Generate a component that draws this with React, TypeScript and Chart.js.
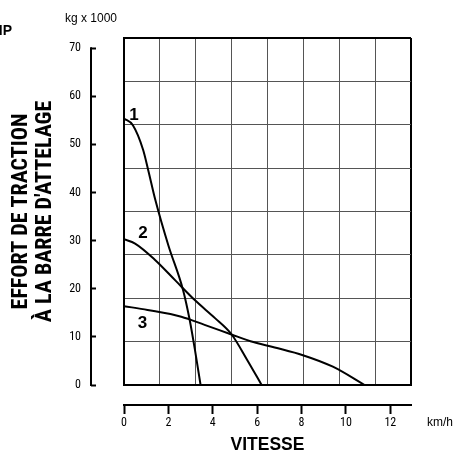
import React, { useEffect, useRef } from "react";
import { Chart, registerables } from "chart.js";

Chart.register(...registerables);

const COND = "'Roboto Condensed', Roboto, 'Liberation Sans', sans-serif";
const SANS = "'Liberation Sans', Arial, sans-serif";

// Axis ranges / ticks
const speedMin = 0;
const speedMax = 12.93;
const speedStep = 2;
const forceMin = 0;
const forceMax = 72.14;
const forceStep = 10;
const gridCells = 8;

// Curve 1
const curve1Speed = [0, 0.4, 0.86, 1.1, 1.41, 2.0, 2.66, 2.96, 3.2, 3.45];
const curve1Force = [55.4, 54, 48.9, 44.5, 38.5, 29, 19.75, 13.5, 7.2, 0];
// Curve 2
const curve2Speed = [0, 0.5, 1.4, 2.3, 3.2, 4.1, 4.85, 5.55, 6.2];
const curve2Force = [30.3, 29.4, 26, 21.8, 17.6, 13.9, 10.5, 5.2, 0];
// Curve 3
const curve3Speed = [0, 1.06, 2.58, 3.63, 4.84, 5.7, 6.79, 8.06, 9.41, 10.84];
const curve3Force = [16.4, 15.6, 14.2, 12.5, 10.5, 9.1, 7.8, 6.2, 3.8, 0];

// Curve labels (anchored in data units)
const curveNames = ["1", "2", "3"];
const curveNameSpeed = [0.45, 0.86, 0.83];
const curveNameForce = [56.1, 31.6, 12.8];

// Texts
const xTitle = "VITESSE";
const yTitle = ["EFFORT DE TRACTION", "À LA BARRE D'ATTELAGE"];
const xUnit = "km/h";
const yUnit = "kg x 1000";
const cutLabel = "HP";

const toPoints = (xs: number[], ys: number[]) => xs.map((x, i) => ({ x, y: ys[i] }));

const annotations = {
  id: "annotations",
  afterDraw(chart: any) {
    const { ctx, scales } = chart;
    const x = scales.x;
    const y = scales.y;
    ctx.save();
    // vertical force axis line, from lowest to highest tick, at the outer end of the ticks
    const yt = y.ticks;
    const axisX = y.right - y.options.grid.tickLength;
    ctx.strokeStyle = "#000";
    ctx.lineWidth = 2;
    ctx.beginPath();
    ctx.moveTo(axisX, y.getPixelForValue(yt[yt.length - 1].value) - 1);
    ctx.lineTo(axisX, y.getPixelForValue(yt[0].value) + 1);
    ctx.stroke();
    // curve numbers
    ctx.fillStyle = "#000";
    ctx.font = `bold 17px ${SANS}`;
    ctx.textAlign = "center";
    ctx.textBaseline = "middle";
    curveNames.forEach((t, i) => {
      ctx.fillText(t, x.getPixelForValue(curveNameSpeed[i]), y.getPixelForValue(curveNameForce[i]));
    });
    // units
    ctx.font = `12px ${SANS}`;
    ctx.textAlign = "center";
    ctx.fillText(yUnit, axisX, 19);
    ctx.textAlign = "left";
    ctx.fillText(xUnit, x.right + 16, 423);
    // cut-off label at top-left edge
    ctx.font = `bold 14px ${SANS}`;
    ctx.textAlign = "right";
    ctx.fillText(cutLabel, 12, 31);
    ctx.restore();
  },
};

const gridColor = (c: any) => (c.tick && c.tick.value === gridCells ? "#000" : "#555");
const gridWidth = (c: any) => (c.tick && c.tick.value === gridCells ? 2 : 1);

export default function App() {
  const ref = useRef<HTMLCanvasElement | null>(null);

  useEffect(() => {
    if (!ref.current) return;
    const lineStyle = {
      borderColor: "#000",
      borderWidth: 2,
      pointRadius: 0,
      fill: false,
      cubicInterpolationMode: "monotone" as const,
      xAxisID: "x",
      yAxisID: "y",
    };
    const chart = new Chart(ref.current, {
      type: "line",
      data: {
        datasets: [
          { ...lineStyle, label: curveNames[0], data: toPoints(curve1Speed, curve1Force) },
          { ...lineStyle, label: curveNames[1], data: toPoints(curve2Speed, curve2Force) },
          { ...lineStyle, label: curveNames[2], data: toPoints(curve3Speed, curve3Force) },
        ],
      },
      options: {
        animation: false,
        responsive: true,
        maintainAspectRatio: false,
        layout: { padding: { left: 0, top: 38, right: 42, bottom: 0 } },
        plugins: { legend: { display: false }, tooltip: { enabled: false } },
        scales: {
          x: {
            type: "linear",
            position: "bottom",
            weight: 1,
            min: speedMin,
            max: speedMax,
            afterFit: (s: any) => {
              s.height = 49;
            },
            grid: { drawOnChartArea: false, drawTicks: true, tickLength: 9, tickWidth: 2, tickColor: "#000" },
            border: { display: true, width: 2, color: "#000" },
            ticks: {
              stepSize: speedStep,
              includeBounds: false,
              padding: 2,
              color: "#000",
              maxRotation: 0,
              autoSkip: false,
              font: { family: COND, size: 12 },
            },
            title: {
              display: true,
              text: xTitle,
              color: "#000",
              font: { family: SANS, size: 17.5, weight: "bold", lineHeight: 1 },
              padding: { top: 0, bottom: 0 },
            },
          },
          gx: {
            type: "linear",
            position: "bottom",
            weight: 0,
            min: 0,
            max: gridCells,
            afterFit: (s: any) => {
              s.height = 20;
            },
            ticks: { display: false, stepSize: 1 },
            grid: { drawTicks: false, color: gridColor, lineWidth: gridWidth },
            border: { display: true, width: 2, color: "#000" },
          },
          y: {
            type: "linear",
            position: "left",
            weight: 0,
            min: forceMin,
            max: forceMax,
            afterFit: (s: any) => {
              s.width = 64;
            },
            grid: {
              drawOnChartArea: false,
              drawTicks: true,
              tickLength: 33,
              tickWidth: 2,
              tickColor: "#000",
              tickBorderDash: [5, 1000],
            },
            border: { display: true, width: 2, color: "#000" },
            ticks: {
              stepSize: forceStep,
              includeBounds: false,
              padding: 10,
              color: "#000",
              font: { family: COND, size: 12 },
            },
          },
          gy: {
            type: "linear",
            position: "left",
            weight: 1,
            min: 0,
            max: gridCells,
            afterFit: (s: any) => {
              s.width = 60;
            },
            ticks: { display: false, stepSize: 1 },
            grid: { drawTicks: false, color: gridColor, lineWidth: gridWidth },
            border: { display: false },
            title: {
              display: true,
              text: yTitle,
              color: "#000",
              font: { family: COND, size: 22, weight: "bold", lineHeight: 1.1 },
              padding: { top: 9, bottom: 0 },
            },
          },
        },
      } as any,
      plugins: [annotations],
    });
    return () => chart.destroy();
  }, []);

  return (
    <div style={{ position: "fixed", left: 0, top: 0, width: 453, height: 454, background: "#fff" }}>
      <canvas ref={ref} />
    </div>
  );
}
